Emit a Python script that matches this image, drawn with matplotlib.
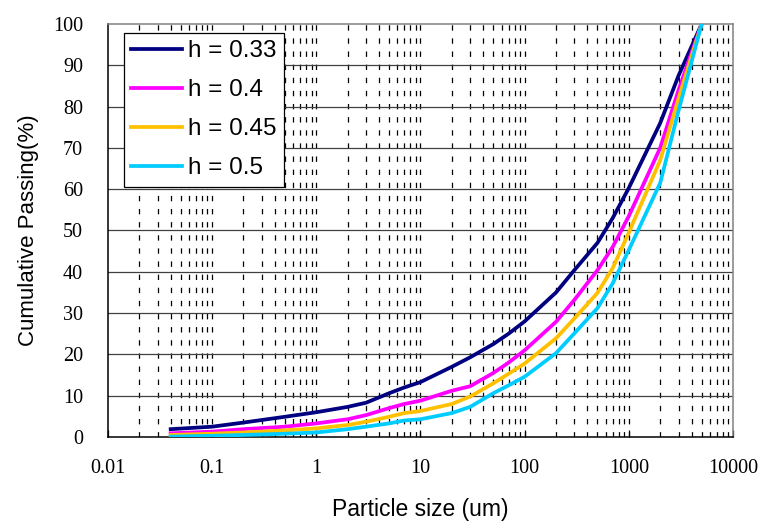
import numpy as np
import matplotlib
matplotlib.use("Agg")
import matplotlib.pyplot as plt
from matplotlib.ticker import FixedLocator, NullLocator, FixedFormatter

# particle size (um) and cumulative passing (%) for each h
size = [0.04, 0.1, 0.2, 0.5, 1, 2, 3, 5, 7, 10, 20, 30, 50, 70, 100,
        200, 300, 500, 700, 1000, 2000, 3000, 5000]
h033 = [1.9, 2.5, 3.5, 4.9, 6.0, 7.3, 8.3, 10.6, 12.0, 13.3, 17.0, 19.3, 22.5, 25.0, 28.0,
        35.0, 40.4, 47.0, 53.0, 60.3, 76.0, 87.5, 100]
h040 = [0.9, 1.3, 1.9, 2.5, 3.3, 4.3, 5.3, 7.0, 8.0, 8.8, 11.2, 12.3, 15.5, 18.0, 21.0,
        27.9, 33.2, 40.4, 46.0, 53.5, 70.0, 84.0, 100]
h045 = [0.5, 0.8, 1.1, 1.6, 2.1, 2.9, 3.7, 4.9, 5.8, 6.3, 8.0, 9.8, 13.0, 15.3, 17.8,
        23.9, 28.7, 34.9, 40.9, 49.5, 67.0, 82.0, 100]
h050 = [0.1, 0.3, 0.5, 0.8, 1.1, 1.9, 2.5, 3.3, 4.0, 4.3, 5.8, 7.3, 10.6, 12.5, 14.6,
        20.3, 25.1, 31.2, 37.2, 45.3, 61.5, 79.0, 100]
series = [("h = 0.33", h033, "#000080"), ("h = 0.4", h040, "#FF00FF"),
          ("h = 0.45", h045, "#FFC000"), ("h = 0.5", h050, "#00CCFF")]

xticks = [0.01, 0.1, 1, 10, 100, 1000, 10000]
xticklabels = ["0.01", "0.1", "1", "10", "100", "1000", "10000"]
yticks = list(range(0, 101, 10))

fig = plt.figure(figsize=(7.63, 5.21), dpi=100)
ax = fig.add_axes([0.1415, 0.1612, 0.8192, 0.7928])
ax.set_xscale("log")
ax.set_xlim(0.01, 10000)
ax.set_ylim(0, 100)

# dashed vertical grid at 2..10 of each decade
vx = [m * 10.0 ** e for e in range(-2, 4) for m in range(2, 11)]
for v in vx:
    if v < 10000:
        ax.axvline(v, color="black", lw=0.9, ls=(0, (4.3, 6.2)), zorder=1)
for yv in yticks[1:-1]:
    ax.axhline(yv, color="#404040", lw=0.9, zorder=1)

for lab, vals, col in series:
    ax.plot(size, vals, color=col, lw=2.7, label=lab, zorder=3)

ax.xaxis.set_major_locator(FixedLocator(xticks))
ax.xaxis.set_major_formatter(FixedFormatter(xticklabels))
ax.xaxis.set_minor_locator(NullLocator())
ax.set_yticks(yticks)
ax.tick_params(axis="x", direction="in", length=5, width=0.9, labelsize=14.5, pad=16)
ax.tick_params(axis="y", direction="out", length=0, labelsize=14.5, pad=18)
for t in ax.get_xticklabels() + ax.get_yticklabels():
    t.set_fontfamily("Liberation Serif")

for s in ("left", "bottom"):
    ax.spines[s].set_color("black")
    ax.spines[s].set_linewidth(1.1)
for s in ("top", "right"):
    ax.spines[s].set_color("#808080")
    ax.spines[s].set_linewidth(1.1)

ax.set_xlabel("Particle size (um)", fontsize=16.5, family="Liberation Sans", labelpad=14)
ax.set_ylabel("Cumulative Passing(%)", fontsize=16, family="Liberation Sans", labelpad=10)

leg = ax.legend(loc="upper left", bbox_to_anchor=(0.025, 0.978), borderaxespad=0,
                prop={"family": "Liberation Sans", "size": 17.5}, fancybox=False,
                edgecolor="black", framealpha=1, handlelength=2.1, handletextpad=0.25,
                labelspacing=0.7, borderpad=0.3)
leg.get_frame().set_linewidth(0.9)
leg.set_zorder(5)

fig.savefig("out.png", dpi=100)
